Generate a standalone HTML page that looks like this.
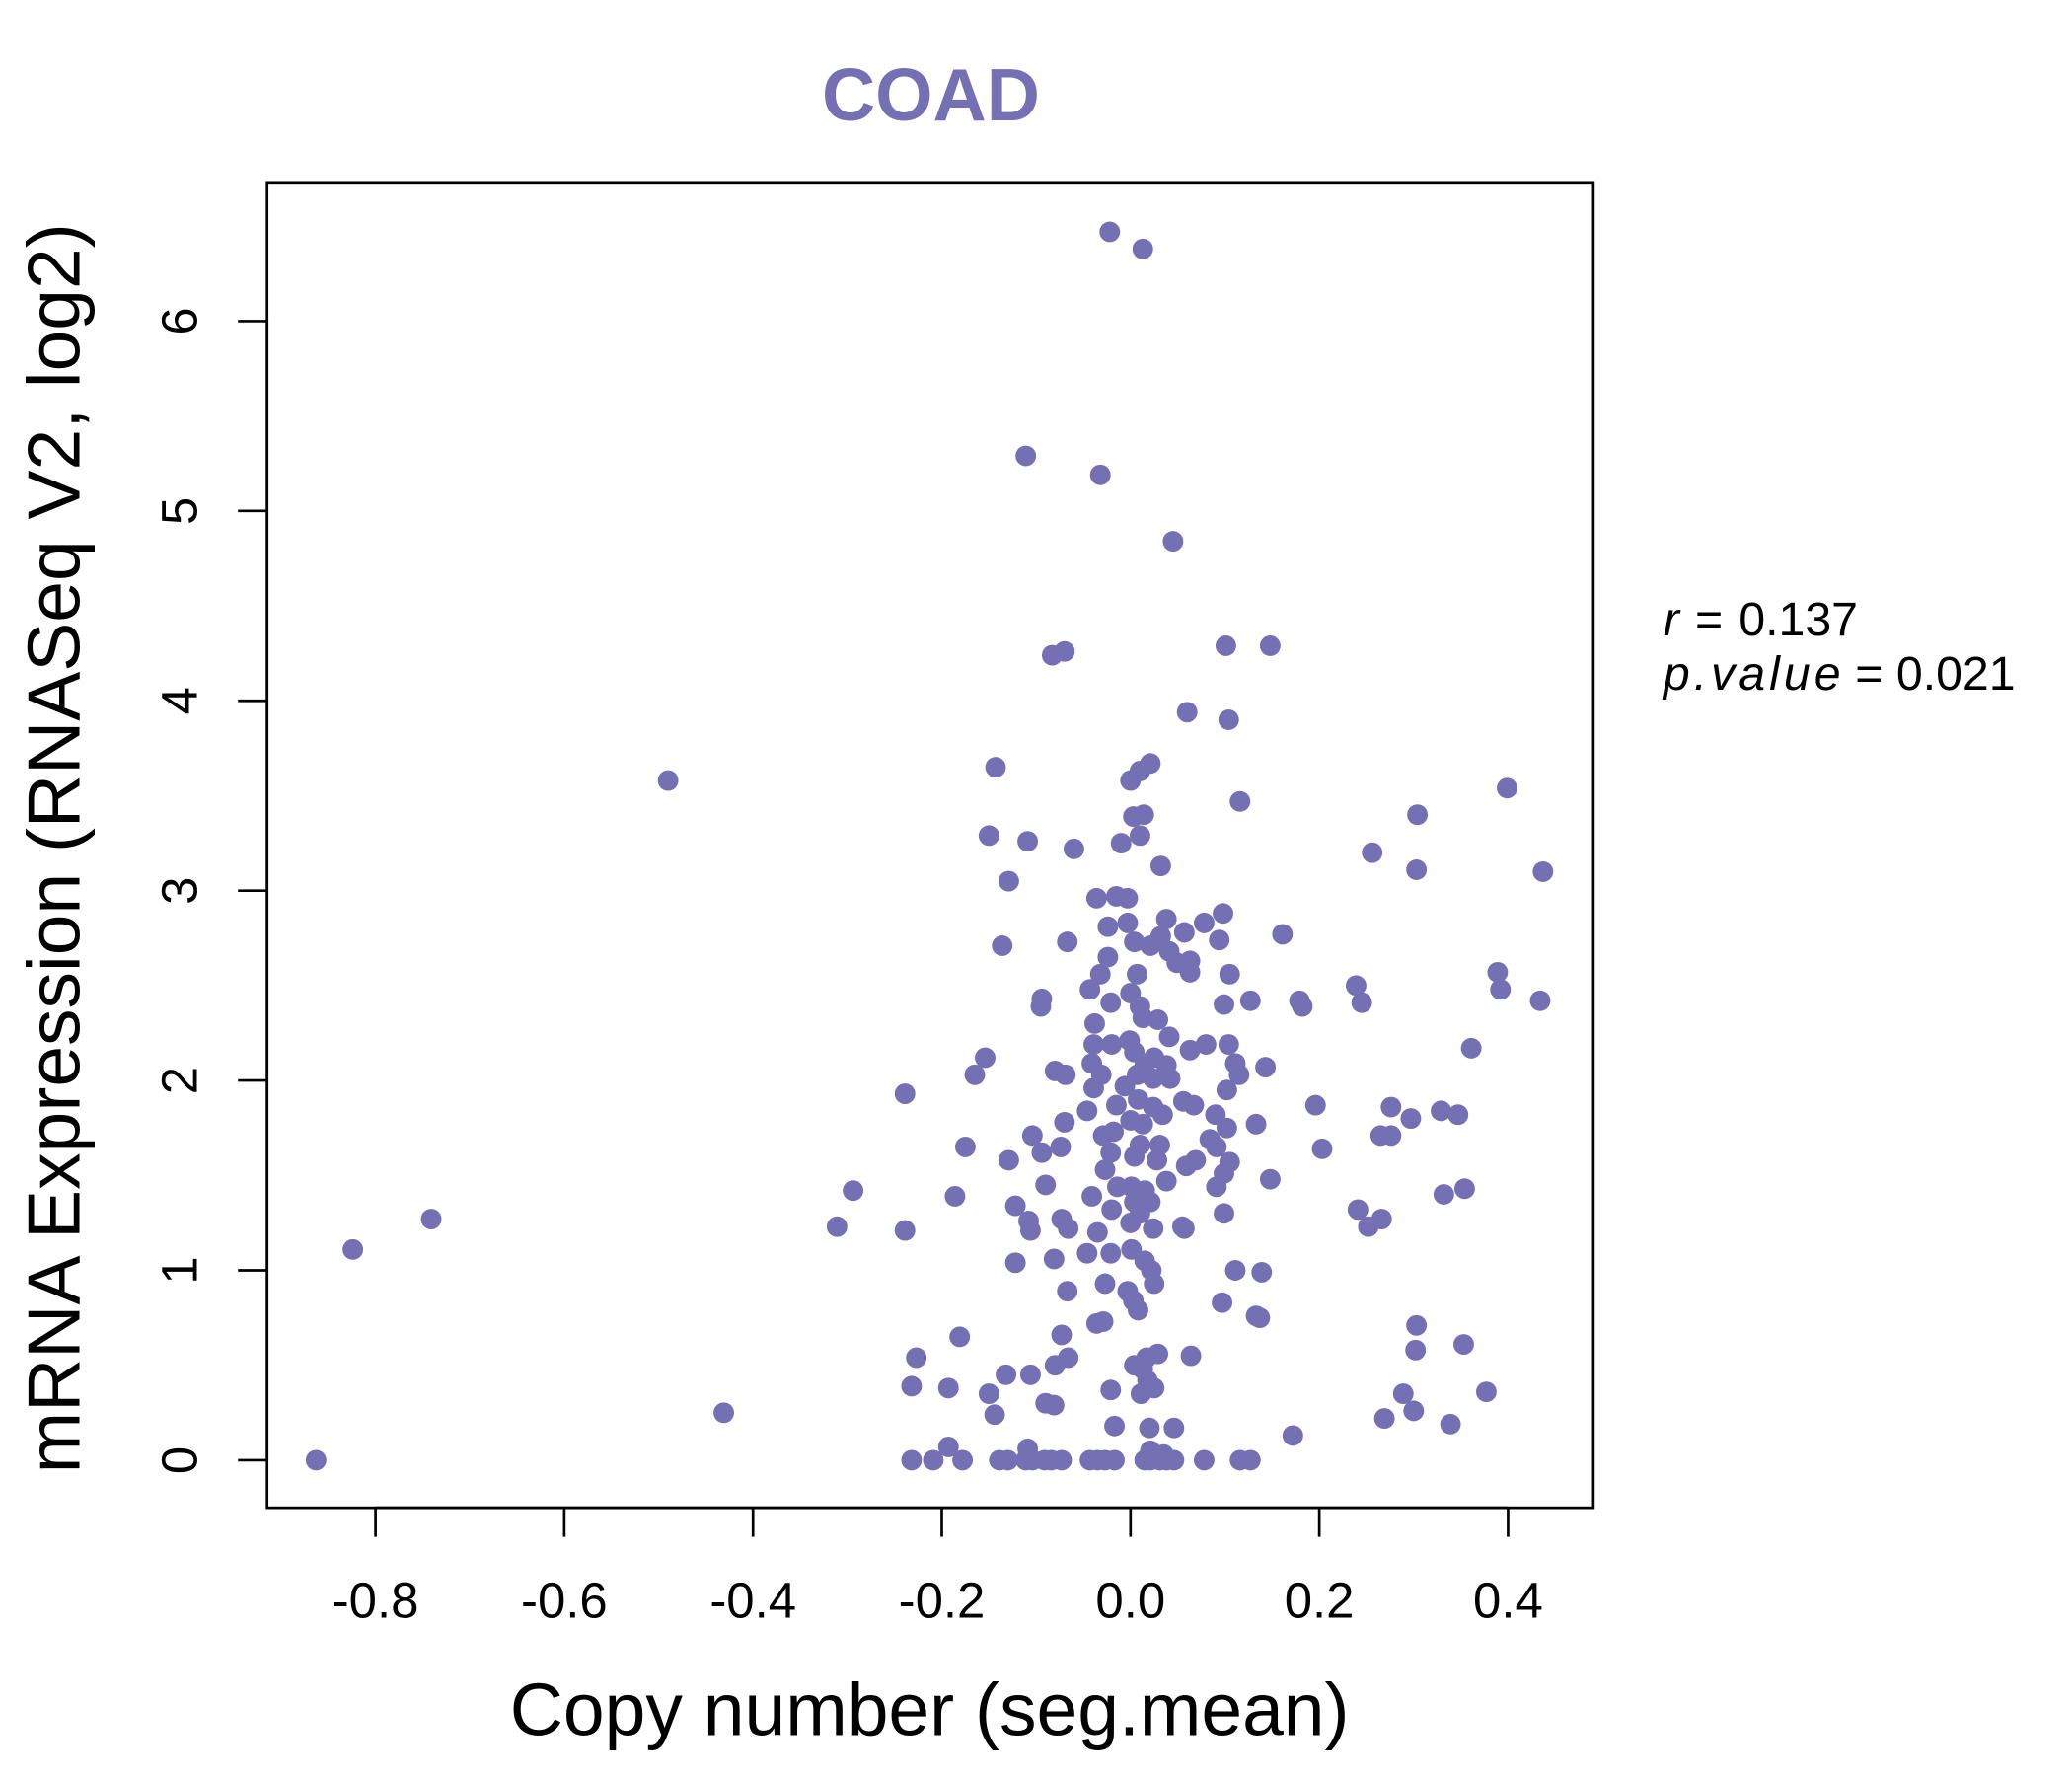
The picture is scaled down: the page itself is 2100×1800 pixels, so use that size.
<!DOCTYPE html>
<html><head><meta charset="utf-8"><style>
html,body{margin:0;padding:0;background:#fff;}
svg{display:block;}
text{font-family:"Liberation Sans",sans-serif;}
</style></head><body>
<svg id="chart" width="2100" height="1800" viewBox="0 0 1567 1344" preserveAspectRatio="none" xmlns="http://www.w3.org/2000/svg">
<text x="704" y="91" text-anchor="middle" font-size="56" font-weight="bold" fill="#7570B3">COAD</text>
<rect x="202" y="138" width="1003" height="1003" fill="none" stroke="#000" stroke-width="2"/>
<g id="xaxis"></g>
<g id="yaxis"></g>
<g id="points"></g>
<text x="703" y="1313" text-anchor="middle" font-size="56">Copy number (seg.mean)</text>
<text transform="translate(60,642) rotate(-90)" text-anchor="middle" font-size="56">mRNA Expression (RNASeq V2, log2)</text>
<text x="1258" y="481" font-size="36"><tspan font-style="italic">r</tspan><tspan dx="12">=</tspan><tspan dx="12">0.137</tspan></text>
<text x="1258" y="522" font-size="36"><tspan font-style="italic" letter-spacing="3">p.value</tspan><tspan dx="8">=</tspan><tspan dx="10">0.021</tspan></text>
</svg>
<script>
const xTicks = [-0.8,-0.6,-0.4,-0.2,0.0,0.2,0.4];
const xTickLabels = ["-0.8","-0.6","-0.4","-0.2","0.0","0.2","0.4"];
const yTicks = [0,1,2,3,4,5,6];
const yTickLabels = ["0","1","2","3","4","5","6"];
const copyNumber = [-0.022,0.013,-0.111,-0.032,0.045,-0.083,-0.070,0.101,0.148,0.060,0.104,-0.490,-0.143,0.021,0.010,0,0.116,0.399,0.304,0.003,0.014,-0.150,-0.109,-0.060,-0.010,0.010,0.256,0.032,0.303,0.437,-0.129,-0.036,-0.015,-0.003,0.038,0.098,0.078,-0.003,-0.024,0.161,-0.067,-0.136,0.094,0.057,0.032,0.004,-0.024,0.021,0.041,0.063,0.049,0.105,0.007,-0.032,0.063,0.389,0.392,0.239,-0.043,0,-0.094,-0.095,-0.021,0.010,0.099,0.127,0.179,0.182,0.245,0.434,0.013,0.029,-0.038,0.041,-0.039,-0.001,-0.020,0.080,0.104,0.063,0.004,0.361,-0.154,0.025,0.038,0.015,-0.041,0.111,0.143,0.115,-0.165,-0.080,-0.069,-0.031,0.007,0.024,0.042,-0.039,-0.006,0.102,-0.239,0.008,-0.015,0.056,0.067,0.024,0.196,0.276,0.329,0.347,0.297,-0.046,0.034,0.090,0,-0.070,0.013,0.133,-0.018,0.102,0.265,0.276,-0.104,-0.029,0.084,0.010,0.031,-0.074,-0.175,0.091,0.203,-0.021,0.004,-0.094,0.028,-0.129,0.069,0.105,0.059,-0.027,0.099,0.038,0.148,-0.090,-0.014,0.001,0.091,0.354,-0.294,0.015,-0.041,-0.186,0.332,-0.122,0.004,0.021,-0.020,0.010,0.099,0.241,-0.741,-0.073,-0.108,0.266,-0.066,0,0.055,0.252,-0.311,-0.239,-0.106,-0.035,0.024,0.057,-0.824,0.001,-0.046,-0.021,0.015,-0.081,-0.122,0.022,0.111,0.139,0.025,-0.027,-0.067,-0.003,0.003,0.097,0.008,0.133,0.137,-0.029,-0.036,0.303,-0.073,-0.181,0.353,0.302,0.029,0.017,0.064,-0.066,-0.227,-0.080,0.004,0.013,-0.132,-0.106,0.018,-0.232,-0.193,0.025,-0.021,0.377,-0.150,0.011,0.289,-0.090,-0.081,0.300,-0.431,-0.144,0.269,0.339,-0.017,0.020,0.046,0.172,-0.193,-0.109,-0.863,-0.232,-0.209,-0.178,-0.139,-0.130,-0.111,-0.104,-0.091,-0.084,-0.073,-0.043,-0.035,-0.027,-0.017,0.015,0.021,0.031,0.038,0.046,0.078,0.116,0.127,0.021,0.035];
const expression = [6.47,6.38,5.29,5.19,4.84,4.24,4.26,4.29,4.29,3.94,3.90,3.58,3.65,3.67,3.63,3.58,3.47,3.54,3.40,3.39,3.40,3.29,3.26,3.22,3.25,3.29,3.20,3.13,3.11,3.10,3.05,2.96,2.97,2.96,2.85,2.88,2.83,2.83,2.81,2.77,2.73,2.71,2.74,2.78,2.76,2.73,2.65,2.71,2.68,2.63,2.62,2.56,2.56,2.56,2.57,2.57,2.48,2.50,2.48,2.46,2.43,2.39,2.41,2.39,2.40,2.42,2.42,2.39,2.41,2.42,2.33,2.32,2.30,2.23,2.19,2.21,2.19,2.19,2.19,2.16,2.15,2.17,2.12,2.12,2.08,2.08,2.09,2.09,2.07,2.03,2.03,2.05,2.03,2.03,2.03,2.01,2.01,1.96,1.97,1.95,1.93,1.90,1.87,1.89,1.87,1.86,1.87,1.86,1.84,1.82,1.80,1.84,1.82,1.82,1.79,1.78,1.77,1.77,1.73,1.75,1.71,1.71,1.71,1.71,1.69,1.66,1.66,1.65,1.65,1.65,1.64,1.62,1.60,1.62,1.58,1.58,1.58,1.57,1.55,1.53,1.51,1.47,1.48,1.45,1.44,1.44,1.44,1.43,1.42,1.42,1.39,1.39,1.40,1.34,1.36,1.36,1.32,1.30,1.30,1.32,1.27,1.27,1.26,1.27,1.22,1.25,1.23,1.23,1.23,1.21,1.21,1.20,1.22,1.22,1.11,1.11,1.09,1.09,1.05,1.06,1.04,1.00,1.00,0.99,0.93,0.93,0.89,0.89,0.84,0.83,0.79,0.76,0.75,0.73,0.72,0.71,0.66,0.65,0.61,0.58,0.56,0.54,0.55,0.54,0.54,0.50,0.50,0.48,0.45,0.45,0.42,0.39,0.38,0.38,0.37,0.36,0.35,0.35,0.35,0.30,0.29,0.26,0.25,0.24,0.22,0.19,0.18,0.17,0.17,0.13,0.07,0.06,0,0,0,0,0,0,0,0,0,0,0,0,0,0,0,0,0,0,0,0,0,0,0,0.05,0.03];

const NS = "http://www.w3.org/2000/svg";
function xScale(v){ return 855 + v * 713.75; }
function yScale(v){ return 1105 - v * 143.67; }
function mk(tag, attrs, parent){
  const e = document.createElementNS(NS, tag);
  for (const k in attrs) e.setAttribute(k, attrs[k]);
  parent.appendChild(e);
  return e;
}
const gx = document.getElementById('xaxis');
const gy = document.getElementById('yaxis');
const gp = document.getElementById('points');
mk('line', {x1: xScale(xTicks[0]), x2: xScale(xTicks[xTicks.length-1]), y1: 1141, y2: 1141, stroke: '#000', 'stroke-width': 2}, gx);
xTicks.forEach((t, i) => {
  const l = mk('line', {x1: xScale(t), x2: xScale(t), y1: 1141, y2: 1163, stroke: '#000', 'stroke-width': 2}, gx);
  
  
  const tx = mk('text', {x: xScale(t), y: 1224, 'text-anchor': 'middle', 'font-size': 38}, gx);
  tx.textContent = xTickLabels[i];
  
  
});
mk('line', {x1: 202, x2: 202, y1: yScale(yTicks[0]), y2: yScale(yTicks[yTicks.length-1]), stroke: '#000', 'stroke-width': 2}, gy);
yTicks.forEach((t, i) => {
  const l = mk('line', {x1: 180, x2: 202, y1: yScale(t), y2: yScale(t), stroke: '#000', 'stroke-width': 2}, gy);
  
  
  const tx = mk('text', {transform: 'translate(149,' + yScale(t) + ') rotate(-90)', 'text-anchor': 'middle', 'font-size': 38}, gy);
  tx.textContent = yTickLabels[i];
  
  
});
copyNumber.forEach((v, i) => {
  const c = mk('circle', {cx: xScale(v), cy: yScale(expression[i]), r: 7.8, fill: '#7570B3'}, gp);
  
  
});
</script>
</body></html>
